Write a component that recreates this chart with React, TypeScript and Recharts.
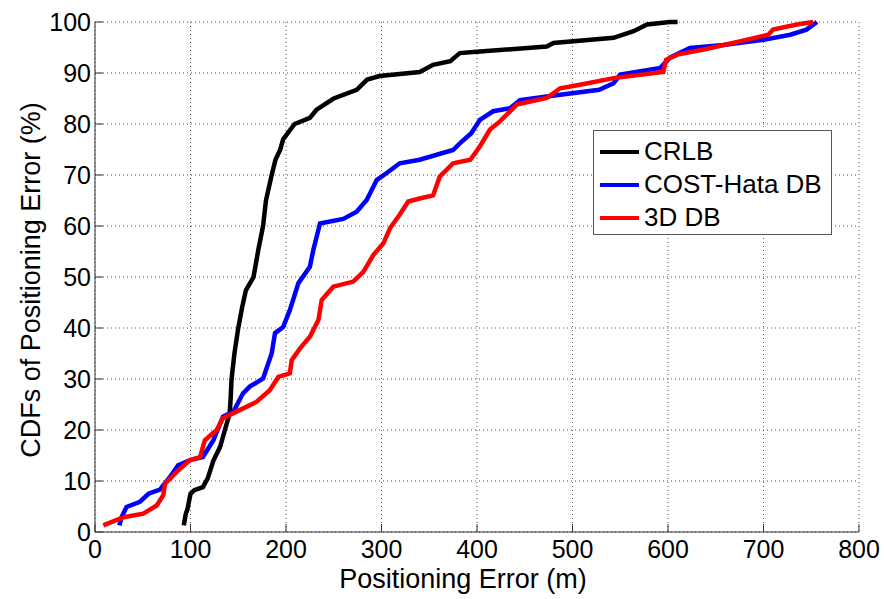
import { LineChart, Line, XAxis, YAxis, CartesianGrid, Legend } from "recharts";

// CDF curves: [error (m), CDF (%)]
const crlb = [
  [93, 1.3], [95, 3.5], [97, 4.6], [100, 7.5], [104, 8.2], [113, 8.8], [118, 10.5],
  [124, 14], [131, 16.7], [136, 20], [141, 23.2], [142, 26], [143, 30], [146, 35],
  [150, 40], [154, 44], [158, 47.4], [166, 50], [171, 55.3], [176, 60], [179, 65],
  [185, 70], [189, 73], [194, 75], [197, 77], [209, 80], [225, 81.2], [232, 82.8],
  [250, 85], [274, 86.7], [285, 88.7], [298, 89.4], [340, 90.2], [354, 91.6],
  [372, 92.3], [382, 93.9], [403, 94.2], [473, 95.2], [480, 95.9], [543, 96.9],
  [564, 98.2], [578, 99.5], [602, 100], [610, 100],
];

const costHata = [
  [25.5, 1.3], [28, 3], [33, 4.9], [47, 5.9], [56, 7.5], [68, 8.3], [78.5, 10.8],
  [87, 13.1], [99.5, 14.1], [113, 14.7], [124, 18], [134, 22.6], [145, 23.6],
  [155, 27.2], [162, 28.5], [176, 30.1], [185, 35], [188.5, 39], [197, 40.2],
  [204, 43.5], [213, 48.8], [225, 52], [228.6, 55.3], [235.6, 60.5], [260, 61.4],
  [274, 62.8], [284.5, 65.1], [295, 69], [305.5, 70.4], [319, 72.3], [340, 73],
  [375, 74.9], [382, 76.2], [394, 78.2], [403, 80.8], [417, 82.5], [434.6, 83.1],
  [445, 84.7], [473, 85.4], [528, 86.7], [543, 88], [550, 89.7], [592, 91],
  [602, 93], [623, 94.9], [658, 95.5], [700, 96.5], [728, 97.5], [745, 98.5], [756, 100],
];

const db3d = [
  [8.7, 1.3], [30, 2.9], [50.6, 3.6], [64.6, 5.2], [71.5, 7.2], [73.3, 9.5],
  [85.5, 11.8], [99.5, 14.1], [110, 14.7], [115, 18], [127.4, 20], [134, 22.3],
  [148, 23.6], [169, 25.5], [183, 27.8], [192, 30.4], [204, 31.1], [206, 33.7],
  [214.7, 36], [225, 38.3], [234, 41.6], [237.4, 45.5], [249.5, 48.1], [270.5, 49.1],
  [281, 51], [291.4, 54.3], [302, 56.6], [309, 59.6], [319, 62.2], [328, 64.8],
  [340, 65.4], [354, 66], [361, 69.7], [375, 72.3], [393, 73], [403, 75.6],
  [413.6, 78.9], [424, 80.5], [441.6, 83.8], [473, 85.1], [487, 87], [508, 87.7],
  [543, 89], [595, 90.2], [598, 92.6], [610, 93.6], [640, 94.7], [675, 96.2],
  [705, 97.5], [710, 98.5], [735, 99.5], [752, 100],
];

const xTicks = [0, 100, 200, 300, 400, 500, 600, 700, 800];
const yTicks = [0, 10, 20, 30, 40, 50, 60, 70, 80, 90, 100];

const SERIES = [
  { name: "CRLB", color: "#000000", points: crlb },
  { name: "COST-Hata DB", color: "#0000ff", points: costHata },
  { name: "3D DB", color: "#ff0000", points: db3d },
];

const FONT = "'Liberation Sans', Arial, Helvetica, sans-serif";
const AXIS = "#333333";

const toRows = (pts: number[][]) => pts.map(([x, y]) => ({ x, y }));

function XTitle({ viewBox }: any) {
  const { x, width } = viewBox;
  return (
    <text x={x + width / 2 - 14} y={588} textAnchor="middle" fontSize={27} fontFamily={FONT} fill="#000">
      Positioning Error (m)
    </text>
  );
}

function YTitle({ viewBox }: any) {
  const { y, height } = viewBox;
  const cy = y + height / 2 + 3;
  return (
    <text
      x={40}
      y={cy}
      transform={`rotate(-90, 40, ${cy})`}
      textAnchor="middle"
      fontSize={27}
      fontFamily={FONT}
      fill="#000"
    >
      CDFs of Positioning Error (%)
    </text>
  );
}

function LegendBox() {
  return (
    <div
      style={{
        border: "1px solid #555",
        background: "#fff",
        width: 239,
        height: 105,
        padding: "4px 0 0 6px",
        boxSizing: "border-box",
        fontFamily: FONT,
        fontSize: 26,
      }}
    >
      {SERIES.map((s) => (
        <div key={s.name} style={{ display: "flex", alignItems: "center", height: 33 }}>
          <div style={{ width: 39, height: 4, background: s.color, marginRight: 5 }} />
          <span style={{ color: "#000" }}>{s.name}</span>
        </div>
      ))}
    </div>
  );
}

export default function App() {
  return (
    <div style={{ position: "absolute", left: 0, top: 0, width: 884, height: 599, background: "#fff" }}>
      <LineChart width={884} height={599} margin={{ top: 22, right: 25, left: 0, bottom: 0 }}>
        <CartesianGrid stroke="#555" strokeDasharray="1 3" />
        <XAxis
          type="number"
          dataKey="x"
          domain={[0, 800]}
          ticks={xTicks}
          height={67}
          stroke={AXIS}
          tickSize={-8}
          tickMargin={16}
          tick={{ fontSize: 25, fontFamily: FONT, fill: "#000" }}
          label={<XTitle />}
        />
        <XAxis
          xAxisId="top"
          orientation="top"
          type="number"
          dataKey="x"
          domain={[0, 800]}
          ticks={xTicks}
          height={0}
          stroke={AXIS}
          tickSize={-8}
          tick={false}
        />
        <YAxis
          type="number"
          domain={[0, 100]}
          ticks={yTicks}
          width={95}
          stroke={AXIS}
          tickSize={-8}
          tickMargin={12}
          tick={{ fontSize: 25, fontFamily: FONT, fill: "#000" }}
          label={<YTitle />}
        />
        <YAxis
          yAxisId="right"
          orientation="right"
          type="number"
          domain={[0, 100]}
          ticks={yTicks}
          width={0}
          stroke={AXIS}
          tickSize={-8}
          tick={false}
        />
        <Legend
          layout="vertical"
          align="center"
          verticalAlign="middle"
          content={<LegendBox />}
          wrapperStyle={{ position: "absolute", left: 593, top: 130, width: "auto", height: "auto" }}
        />
        {SERIES.map((s) => (
          <Line
            key={s.name}
            data={toRows(s.points)}
            dataKey="y"
            name={s.name}
            stroke={s.color}
            strokeWidth={4.5}
            dot={false}
            activeDot={false}
            isAnimationActive={false}
          />
        ))}
      </LineChart>
    </div>
  );
}
